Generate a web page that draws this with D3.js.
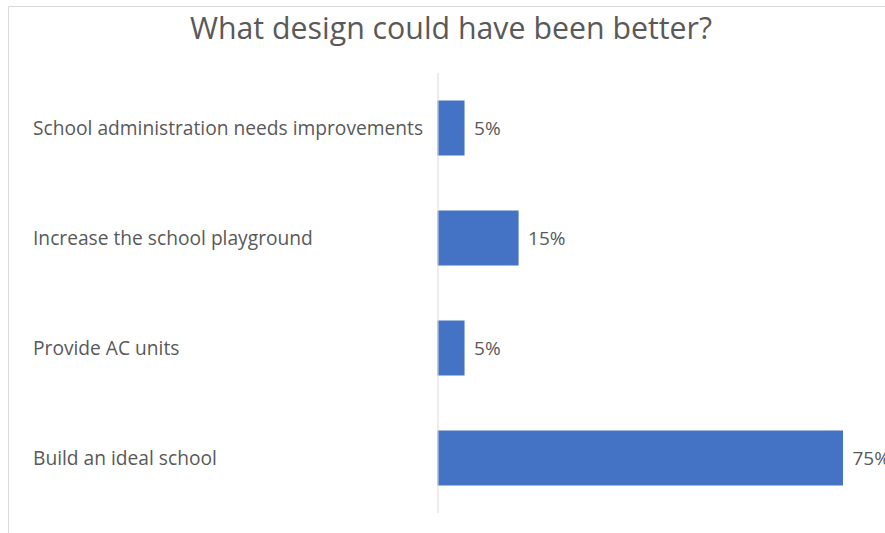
<!DOCTYPE html>
<html>
<head>
<meta charset="utf-8">
<script src="https://cdn.jsdelivr.net/npm/d3@7"></script>
<style>
  html, body { margin: 0; padding: 0; background: #fff; overflow: hidden; }
  svg { display: block; }
  text { font-family: "Open Sans", "Noto Sans", sans-serif; fill: #595959; }
</style>
</head>
<body>
<script>
// Survey answers, top to bottom
const categories = [
  "School administration needs improvements",
  "Increase the school playground",
  "Provide AC units",
  "Build an ideal school"
];
const shares = [5, 15, 5, 75];
const valueLabels = ["5%", "15%", "5%", "75%"];
const chartTitle = "What design could have been better?";

const W = 885, H = 533;
const svg = d3.select("body").append("svg").attr("width", W).attr("height", H);

// chart area frame (left and top edges visible)
svg.append("path")
  .attr("d", `M8.5,${H} V6.5 H${W}`)
  .attr("fill", "none")
  .attr("stroke", "#d9d9d9")
  .attr("stroke-width", 1);

svg.append("text")
  .attr("x", 451)
  .attr("y", 39)
  .attr("text-anchor", "middle")
  .attr("font-size", 30.3)
  .text(chartTitle);

const x = d3.scaleLinear().domain([0, 75]).range([437.5, 843]);
const y = d3.scaleBand().domain(categories).range([73, 513])
  .paddingInner(0.5).paddingOuter(0.25);

// bars
svg.append("g").selectAll("rect")
  .data(categories)
  .join("rect")
  .attr("x", x(0))
  .attr("y", d => y(d))
  .attr("width", (d, i) => x(shares[i]) - x(0))
  .attr("height", y.bandwidth())
  .attr("fill", "#4472c4");

// category axis
const yAxis = d3.axisLeft(y).tickSize(0).tickPadding(0);
const ag = svg.append("g").attr("transform", `translate(${x(0)},0)`).call(yAxis);
ag.select(".domain").attr("stroke", "#d9d9d9").attr("d", `M0.5,73V513`);
ag.selectAll(".tick text")
  .attr("x", 33 - x(0))
  .attr("text-anchor", "start")
  .attr("dy", "0.35em")
  .attr("font-size", 19.2)
  .style("font-family", "'Open Sans', 'Noto Sans', sans-serif")
  .attr("fill", "#595959");

// value labels
svg.append("g").selectAll("text")
  .data(categories)
  .join("text")
  .attr("x", (d, i) => x(shares[i]) + 9.5)
  .attr("y", d => y(d) + y.bandwidth() / 2)
  .attr("dy", "0.35em")
  .attr("font-size", 19)
  .text((d, i) => valueLabels[i]);
</script>
</body>
</html>
